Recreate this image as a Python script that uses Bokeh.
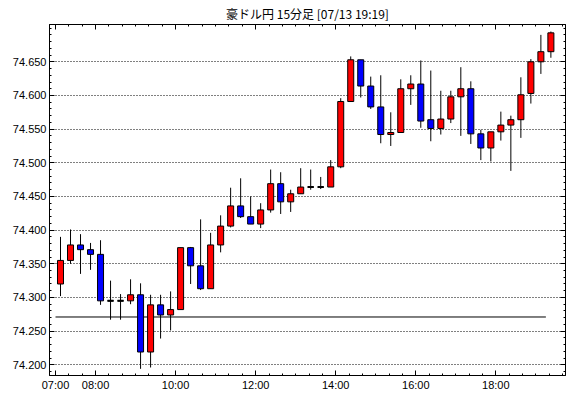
import numpy as np
from bokeh.plotting import figure
from bokeh.models import FixedTicker, LinearAxis, Range1d, ColumnDataSource
from bokeh.embed import file_html
from bokeh.resources import INLINE

title_text = "豪ドル円 15分足 [07/13 19:19]"

# 15-minute bars starting 07:00
first_bar_hour = 7.0
bar_hours = 0.25

opens = [74.320, 74.355, 74.378, 74.371, 74.364, 74.295, 74.295, 74.295, 74.304, 74.219,
         74.289, 74.274, 74.282, 74.374, 74.347, 74.313, 74.378, 74.406, 74.436, 74.420,
         74.409, 74.430, 74.469, 74.442, 74.454, 74.464, 74.464, 74.464, 74.494, 74.591,
         74.653, 74.614, 74.583, 74.542, 74.545, 74.610, 74.617, 74.564, 74.551, 74.565,
         74.598, 74.610, 74.543, 74.522, 74.546, 74.556, 74.564, 74.603, 74.650, 74.665]
highs = [74.390, 74.401, 74.394, 74.381, 74.385, 74.325, 74.305, 74.327, 74.321, 74.304,
         74.304, 74.309, 74.374, 74.375, 74.416, 74.396, 74.422, 74.463, 74.477, 74.450,
         74.440, 74.490, 74.486, 74.460, 74.492, 74.490, 74.479, 74.504, 74.596, 74.658,
         74.653, 74.628, 74.630, 74.575, 74.624, 74.630, 74.652, 74.637, 74.607, 74.607,
         74.642, 74.621, 74.549, 74.546, 74.576, 74.570, 74.627, 74.654, 74.690, 74.695]
lows = [74.302, 74.350, 74.335, 74.341, 74.289, 74.267, 74.267, 74.290, 74.194, 74.196,
        74.239, 74.251, 74.282, 74.320, 74.311, 74.313, 74.367, 74.404, 74.418, 74.409,
        74.403, 74.426, 74.424, 74.427, 74.454, 74.460, 74.461, 74.464, 74.492, 74.591,
        74.597, 74.580, 74.529, 74.525, 74.545, 74.586, 74.552, 74.532, 74.542, 74.559,
        74.540, 74.528, 74.504, 74.502, 74.533, 74.488, 74.537, 74.588, 74.632, 74.656]
closes = [74.355, 74.378, 74.371, 74.364, 74.295, 74.295, 74.295, 74.304, 74.219, 74.289,
          74.274, 74.282, 74.374, 74.347, 74.313, 74.378, 74.406, 74.436, 74.420, 74.409,
          74.430, 74.469, 74.442, 74.454, 74.464, 74.464, 74.464, 74.494, 74.591, 74.653,
          74.614, 74.583, 74.542, 74.545, 74.610, 74.617, 74.562, 74.551, 74.565, 74.598,
          74.610, 74.543, 74.522, 74.546, 74.556, 74.564, 74.601, 74.650, 74.665, 74.693]

ref_level = 74.271

x_tick_values = [7, 8, 10, 12, 14, 16, 18]
x_tick_labels = ["07:00", "08:00", "10:00", "12:00", "14:00", "16:00", "18:00"]
y_tick_values = [74.20, 74.25, 74.30, 74.35, 74.40, 74.45, 74.50, 74.55, 74.60, 74.65]
y_tick_labels = ["74.200", "74.250", "74.300", "74.350", "74.400",
                 "74.450", "74.500", "74.550", "74.600", "74.650"]

UP_COLOR = "#ff0000"
DOWN_COLOR = "#0000ff"

n = len(opens)
xs = [first_bar_hour + bar_hours * i + bar_hours / 2 for i in range(n)]
o = np.array(opens); c = np.array(closes)
colors = [UP_COLOR if cc >= oo else DOWN_COLOR for oo, cc in zip(opens, closes)]
src = ColumnDataSource(dict(x=xs, open=opens, high=highs, low=lows, close=closes,
                            top=np.maximum(o, c), bottom=np.minimum(o, c), color=colors))
doji_idx = [i for i in range(n) if opens[i] == closes[i]]
body_w = bar_hours * 0.6
doji = ColumnDataSource(dict(x0=[xs[i] - body_w / 2 for i in doji_idx],
                             x1=[xs[i] + body_w / 2 for i in doji_idx],
                             y=[closes[i] for i in doji_idx]))

p = figure(width=570, height=398,
           x_range=Range1d(6.85, 19.74), y_range=Range1d(74.1841, 74.7054),
           output_backend="svg", toolbar_location=None,
           min_border_left=49, min_border_right=5, min_border_bottom=23, min_border_top=24)
p.background_fill_color = "white"
p.border_fill_color = "white"
p.outline_line_color = "black"
p.outline_line_width = 1

p.title.text = title_text
p.title.align = "center"
p.title.text_font = "Noto Sans CJK JP"
p.title.text_font_size = "12px"
p.title.text_font_style = "normal"
p.title.text_color = "black"
p.title.standoff = 5

minor_x = [7 + k / 3 for k in range(0, 39)]
minor_y = [round(74.18 + 0.01 * k, 3) for k in range(0, 54)]

def style_axis(ax, ticks, minor, labels=None):
    ax.ticker = FixedTicker(ticks=ticks, minor_ticks=minor)
    ax.major_tick_in = 5
    ax.major_tick_out = 0
    ax.minor_tick_in = 2
    ax.minor_tick_out = 0
    ax.axis_line_color = "black"
    ax.major_tick_line_color = "black"
    ax.minor_tick_line_color = "black"
    ax.major_label_text_font = "Liberation Sans"
    ax.major_label_text_font_size = "11px"
    ax.major_label_text_color = "black"
    ax.major_label_standoff = 3
    if labels is not None:
        ax.major_label_overrides = labels

style_axis(p.xaxis[0], x_tick_values, minor_x, dict(zip(x_tick_values, x_tick_labels)))
style_axis(p.yaxis[0], y_tick_values, minor_y, dict(zip(y_tick_values, y_tick_labels)))

top_ax = LinearAxis()
style_axis(top_ax, x_tick_values, minor_x, {v: "" for v in x_tick_values})
top_ax.major_label_standoff = 0
top_ax.major_label_text_font_size = "1px"
p.add_layout(top_ax, "above")
right_ax = LinearAxis()
style_axis(right_ax, y_tick_values, minor_y, {v: "" for v in y_tick_values})
right_ax.major_label_standoff = 0
right_ax.major_label_text_font_size = "1px"
p.add_layout(right_ax, "right")

p.xgrid.grid_line_color = None
p.ygrid.ticker = FixedTicker(ticks=y_tick_values)
p.ygrid.grid_line_color = "black"
p.ygrid.grid_line_dash = "1 2"
p.ygrid.grid_line_width = 1

p.segment(x0=xs[0] - bar_hours / 2, y0=ref_level, x1=xs[-1] - bar_hours / 2, y1=ref_level,
          line_color="black", line_width=1)
p.segment(x0="x", y0="low", x1="x", y1="high", source=src, line_color="black", line_width=1)
p.vbar(x="x", width=body_w, top="top", bottom="bottom", source=src,
       fill_color="color", line_color="black", line_width=1)
p.segment(x0="x0", y0="y", x1="x1", y1="y", source=doji, line_color="black", line_width=2)

open("out.html", "w").write(file_html(p, INLINE))
